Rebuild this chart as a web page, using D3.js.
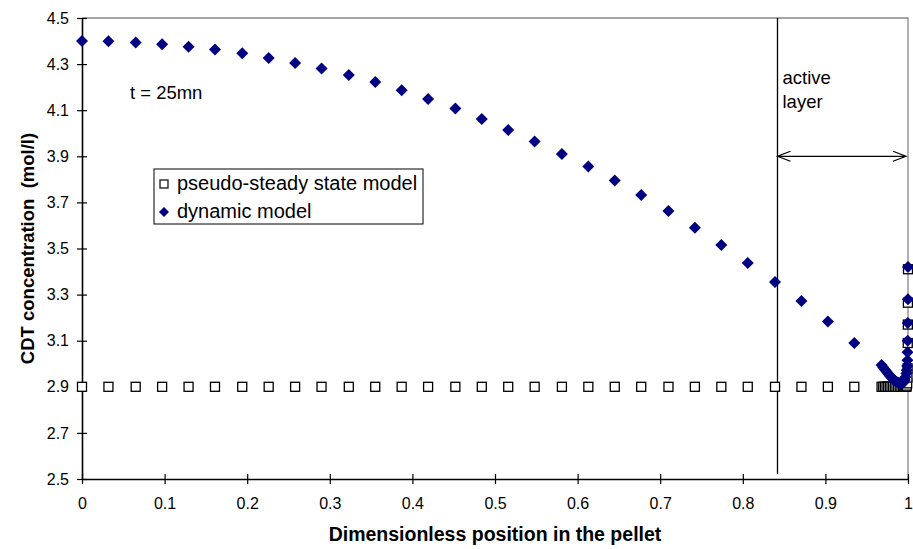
<!DOCTYPE html>
<html>
<head>
<meta charset="utf-8">
<script src="https://cdn.jsdelivr.net/npm/d3@7"></script>
<style>
    body { margin: 0; background: #fff; }
    svg { display: block; font-family: "Liberation Sans", Arial, sans-serif; }
    .tick text { font-size: 16px; fill: #000; }
    .axis-title { font-weight: bold; }
</style>
</head>
<body>
<div id="cdt-chart"></div>
<script>
// Dimensionless position in the pellet (coarse grid, then refined mesh near the surface)
const positions = [
    0, 0.032, 0.065, 0.097, 0.129, 0.161, 0.194, 0.226, 0.258, 0.290,
    0.323, 0.355, 0.387, 0.419, 0.452, 0.484, 0.516, 0.548, 0.581, 0.613,
    0.645, 0.677, 0.710, 0.742, 0.774, 0.806, 0.839, 0.871, 0.903, 0.935,
    0.968, 0.970, 0.972, 0.974, 0.976, 0.978, 0.980, 0.982, 0.984, 0.986,
    0.988, 0.990, 0.992, 0.994, 0.995, 0.996, 0.997, 0.998, 0.9985, 0.999,
    0.9993, 0.9995, 0.9997, 0.9998, 0.9999, 1.0
];

// CDT concentration (mol/l), pseudo-steady state model
const pseudoSteady = [
    2.9, 2.9, 2.9, 2.9, 2.9, 2.9, 2.9, 2.9, 2.9, 2.9,
    2.9, 2.9, 2.9, 2.9, 2.9, 2.9, 2.9, 2.9, 2.9, 2.9,
    2.9, 2.9, 2.9, 2.9, 2.9, 2.9, 2.9, 2.9, 2.9, 2.9,
    2.9, 2.9, 2.9, 2.9, 2.9, 2.9, 2.9, 2.9, 2.9, 2.9,
    2.9, 2.9, 2.9, 2.9, 2.9, 2.9, 2.9, 2.9, 2.905, 2.915,
    2.94, 2.98, 3.09, 3.17, 3.265, 3.41
];

// CDT concentration (mol/l), dynamic model
const dynamic = [
    4.400, 4.399, 4.394, 4.386, 4.375, 4.363, 4.347, 4.327, 4.305, 4.281,
    4.253, 4.222, 4.187, 4.149, 4.107, 4.062, 4.014, 3.964, 3.910, 3.856,
    3.795, 3.732, 3.663, 3.590, 3.515, 3.437, 3.355, 3.272, 3.183, 3.090,
    2.995, 2.985, 2.975, 2.966, 2.957, 2.948, 2.940, 2.933, 2.927, 2.922,
    2.918, 2.916, 2.916, 2.918, 2.922, 2.930, 2.942, 2.958, 2.972, 2.99,
    3.015, 3.05, 3.10, 3.177, 3.28, 3.42
];

const xTicks = [0, 0.1, 0.2, 0.3, 0.4, 0.5, 0.6, 0.7, 0.8, 0.9, 1];
const yTicks = [2.5, 2.7, 2.9, 3.1, 3.3, 3.5, 3.7, 3.9, 4.1, 4.3, 4.5];

const seriesNames = ["pseudo-steady state model", "dynamic model"];
const activeLayerStart = 0.842;

(function () {
    const outerWidth = 913;
    const outerHeight = 549;
    const margin = { top: 18, right: 5, bottom: 70, left: 82 };
    const width = outerWidth - margin.left - margin.right;
    const height = outerHeight - margin.top - margin.bottom;

    const navy = "#000080";

    const svg = d3.select("#cdt-chart")
        .append("svg")
        .attr("width", outerWidth)
        .attr("height", outerHeight)
        .append("g")
        .attr("transform", `translate(${margin.left},${margin.top})`);

    // Scales
    const xScale = d3.scaleLinear().domain([0, 1]).range([0, width]);
    const yScale = d3.scaleLinear().domain([2.5, 4.5]).range([height, 0]);

    // Grey frame on top and right
    svg.append("path")
        .attr("d", `M0,0H${width}V${height}`)
        .attr("fill", "none")
        .attr("stroke", "#888")
        .attr("stroke-width", 1.3);

    // Y axis (ticks cross the axis line)
    const yAxisGroup = svg.append("g")
        .call(d3.axisLeft(yScale)
            .tickValues(yTicks)
            .tickFormat(d3.format(".1f"))
            .tickSizeInner(5)
            .tickSizeOuter(0)
            .tickPadding(8));
    yAxisGroup.selectAll(".tick line").attr("x1", 5).attr("stroke-width", 1.2);

    // X axis
    const xAxisGroup = svg.append("g")
        .attr("transform", `translate(0,${height})`)
        .call(d3.axisBottom(xScale)
            .tickValues(xTicks)
            .tickFormat(d3.format("~g"))
            .tickSizeInner(5)
            .tickSizeOuter(0)
            .tickPadding(14));
    xAxisGroup.selectAll(".tick line").attr("y1", -5).attr("stroke-width", 1.2);

    svg.selectAll(".domain").attr("stroke", "#000").attr("stroke-width", 1.6);

    // Axis titles
    svg.append("text")
        .attr("class", "axis-title")
        .attr("x", width / 2)
        .attr("y", height + 62)
        .attr("text-anchor", "middle")
        .style("font-size", "19.5px")
        .text("Dimensionless position in the pellet");

    svg.append("text")
        .attr("class", "axis-title")
        .attr("transform", `translate(${-margin.left + 34},${height / 2}) rotate(-90)`)
        .attr("text-anchor", "middle")
        .style("font-size", "18.5px")
        .style("white-space", "pre")
        .text("CDT concentration  (mol/l)");

    // Active layer boundary and arrow
    const xa = xScale(activeLayerStart);
    svg.append("line")
        .attr("x1", xa).attr("x2", xa)
        .attr("y1", 0).attr("y2", height - 5)
        .attr("stroke", "#000")
        .attr("stroke-width", 1.3);

    const ay = yScale(3.9);
    svg.append("path")
        .attr("d", `M${xa},${ay}H${width - 2}` +
            `M${xa + 13},${ay - 5}L${xa},${ay}L${xa + 13},${ay + 5}` +
            `M${width - 15},${ay - 5}L${width - 2},${ay}L${width - 15},${ay + 5}`)
        .attr("fill", "none")
        .attr("stroke", "#000")
        .attr("stroke-width", 1.2);

    svg.append("text")
        .attr("x", xa + 5)
        .attr("y", yScale(4.212))
        .style("font-size", "18.5px")
        .text("active");
    svg.append("text")
        .attr("x", xa + 5)
        .attr("y", yScale(4.11))
        .style("font-size", "18.5px")
        .text("layer");

    svg.append("text")
        .attr("x", xScale(0.058))
        .attr("y", yScale(4.15))
        .style("font-size", "18.5px")
        .text("t = 25mn");

    // Markers
    const diamond = (r) => `M0,${-r}L${r},0L0,${r}L${-r},0Z`;

    svg.append("g")
        .selectAll("rect")
        .data(positions.map((x, i) => [x, pseudoSteady[i]]))
        .join("rect")
        .attr("x", (d) => xScale(d[0]) - 4.5)
        .attr("y", (d) => yScale(d[1]) - 4.5)
        .attr("width", 9)
        .attr("height", 9)
        .attr("fill", "#fff")
        .attr("stroke", "#000")
        .attr("stroke-width", 1.3);

    svg.append("g")
        .selectAll("path")
        .data(positions.map((x, i) => [x, dynamic[i]]))
        .join("path")
        .attr("transform", (d) => `translate(${xScale(d[0])},${yScale(d[1])})`)
        .attr("d", diamond(6))
        .attr("fill", navy);

    // Legend
    const legend = svg.append("g").attr("transform", "translate(72,151)");
    legend.append("rect")
        .attr("width", 269)
        .attr("height", 55)
        .attr("fill", "#fff")
        .attr("stroke", "#000")
        .attr("stroke-width", 1);
    legend.append("rect")
        .attr("x", 6).attr("y", 11)
        .attr("width", 8).attr("height", 8)
        .attr("fill", "#fff")
        .attr("stroke", "#000")
        .attr("stroke-width", 1.2);
    legend.append("path")
        .attr("transform", "translate(10,43)")
        .attr("d", diamond(5))
        .attr("fill", navy);
    legend.selectAll("text")
        .data(seriesNames)
        .join("text")
        .attr("x", 23)
        .attr("y", (d, i) => 21 + i * 28)
        .style("font-size", "20px")
        .text((d) => d);
})();
</script>
</body>
</html>
